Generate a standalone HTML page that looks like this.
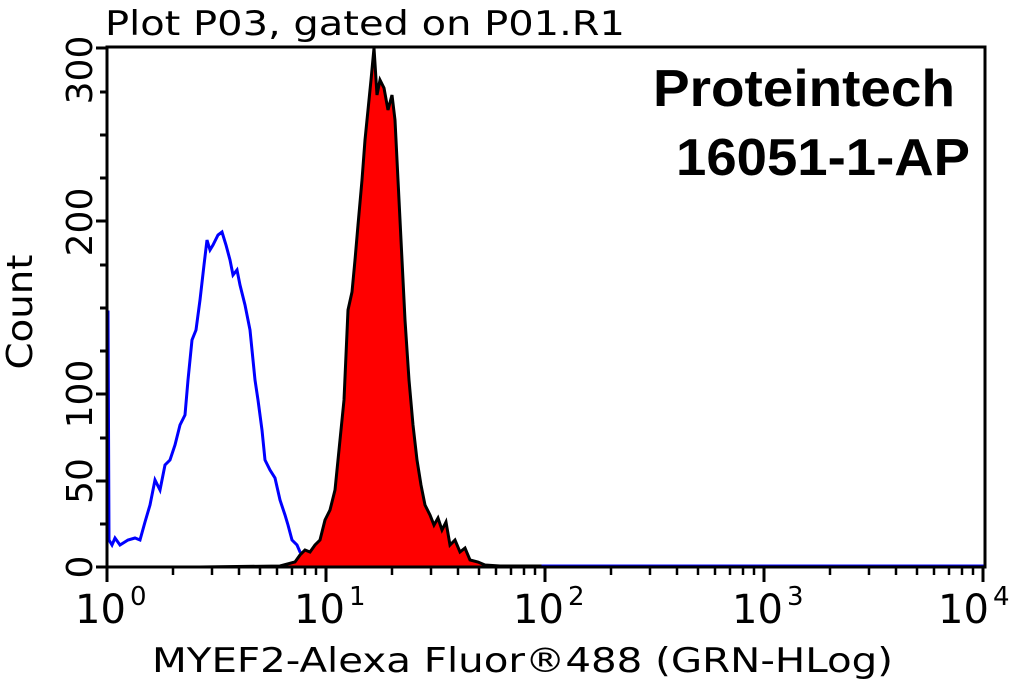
<!DOCTYPE html>
<html><head><meta charset="utf-8"><style>
html,body{margin:0;padding:0;background:#fff;}
svg{display:block;font-family:"DejaVu Sans","Liberation Sans",sans-serif;}
</style></head><body>
<svg width="1015" height="684" viewBox="0 0 1015 684" xmlns="http://www.w3.org/2000/svg">
<rect width="1015" height="684" fill="#fff"/>
<text x="105" y="35" font-size="34" textLength="520" lengthAdjust="spacingAndGlyphs" fill="#000">Plot P03, gated on P01.R1</text>
<polyline fill="none" stroke="#0000ff" stroke-width="3" points="107,568 107,312 108,312 109,540 112,545 115,538 120,545 128,540 135,538 140,540 145,522 150,505 155,480 160,490 165,465 170,460 175,445 180,425 185,415 188,380 192,340 196,330 200,300 204,265 207,240 210,250 213,245 218,235 222,232 226,245 230,260 233,275 237,270 240,285 245,305 250,330 255,380 258,400 262,430 265,460 270,470 275,478 280,500 285,515 288,525 292,540 297,545 300,552 305,558 310,563 320,566 400,567 500,566 985,566"/>
<path d="M107,567 L200,567 L280,566 L295,562 L300,555 L305,550 L310,552 L315,545 L320,540 L325,520 L330,510 L335,490 L340,440 L344,400 L348,310 L352,292 L355,260 L358,225 L362,180 L365,140 L368,110 L371,80 L374,48 L377,95 L380,80 L384,88 L388,110 L392,95 L395,120 L398,180 L402,260 L405,320 L409,380 L413,425 L417,460 L421,485 L425,505 L430,515 L434,525 L438,518 L442,530 L446,522 L450,545 L455,540 L460,552 L465,548 L470,560 L478,562 L485,565 L500,566 L540,566 L540,567 Z" fill="#ff0000" stroke="#000" stroke-width="3"/>
<rect x="107" y="47" width="878" height="520" fill="none" stroke="#000" stroke-width="3"/>
<g stroke="#000" stroke-width="3">
<line x1="96" y1="567" x2="107" y2="567"/><line x1="100" y1="524" x2="107" y2="524"/>
<line x1="96" y1="481" x2="107" y2="481"/><line x1="100" y1="438" x2="107" y2="438"/>
<line x1="96" y1="394" x2="107" y2="394"/><line x1="100" y1="351" x2="107" y2="351"/>
<line x1="100" y1="308" x2="107" y2="308"/><line x1="100" y1="265" x2="107" y2="265"/>
<line x1="96" y1="221" x2="107" y2="221"/><line x1="100" y1="178" x2="107" y2="178"/>
<line x1="100" y1="135" x2="107" y2="135"/><line x1="100" y1="92" x2="107" y2="92"/>
<line x1="96" y1="48" x2="107" y2="48"/>
</g>
<g font-size="36" fill="#000">
<text transform="translate(92,567) rotate(-90)" text-anchor="middle">0</text>
<text transform="translate(92,481) rotate(-90)" text-anchor="middle">50</text>
<text transform="translate(92,394) rotate(-90)" text-anchor="middle">100</text>
<text transform="translate(92,222) rotate(-90)" text-anchor="middle">200</text>
<text transform="translate(92,70) rotate(-90)" text-anchor="middle">300</text>
<text transform="translate(32,312) rotate(-90)" text-anchor="middle" textLength="115" lengthAdjust="spacingAndGlyphs">Count</text>
</g>
<g stroke="#000" stroke-width="3">
<line x1="107" y1="567" x2="107" y2="582"/><line x1="326" y1="567" x2="326" y2="582"/>
<line x1="545" y1="567" x2="545" y2="582"/><line x1="764" y1="567" x2="764" y2="582"/>
<line x1="983" y1="567" x2="983" y2="582"/>
</g>
<g stroke="#000" stroke-width="2.5">
<path d="M173,567v8M212,567v8M239,567v8M260,567v8M277,567v8M292,567v8M305,567v8M316,567v8
M392,567v8M431,567v8M458,567v8M479,567v8M496,567v8M511,567v8M524,567v8M535,567v8
M611,567v8M650,567v8M677,567v8M698,567v8M715,567v8M730,567v8M743,567v8M754,567v8
M830,567v8M869,567v8M896,567v8M917,567v8M934,567v8M949,567v8M962,567v8M973,567v8"/>
</g>
<g font-size="40" fill="#000">
<text x="75" y="623">10</text><text x="130" y="605" font-size="26">0</text>
<text x="294" y="623">10</text><text x="349" y="605" font-size="26">1</text>
<text x="513" y="623">10</text><text x="568" y="605" font-size="26">2</text>
<text x="732" y="623">10</text><text x="787" y="605" font-size="26">3</text>
<text x="938" y="623">10</text><text x="993" y="605" font-size="26">4</text>
</g>
<text x="152" y="672" font-size="34" textLength="741" lengthAdjust="spacingAndGlyphs" fill="#000">MYEF2-Alexa Fluor®488 (GRN-HLog)</text>
<g font-family="Liberation Sans, sans-serif" font-weight="bold" font-size="52" fill="#000">
<text x="653" y="106" textLength="302" lengthAdjust="spacingAndGlyphs">Proteintech</text>
<text x="676" y="175" textLength="294" lengthAdjust="spacingAndGlyphs">16051-1-AP</text>
</g>
</svg>
</body></html>
